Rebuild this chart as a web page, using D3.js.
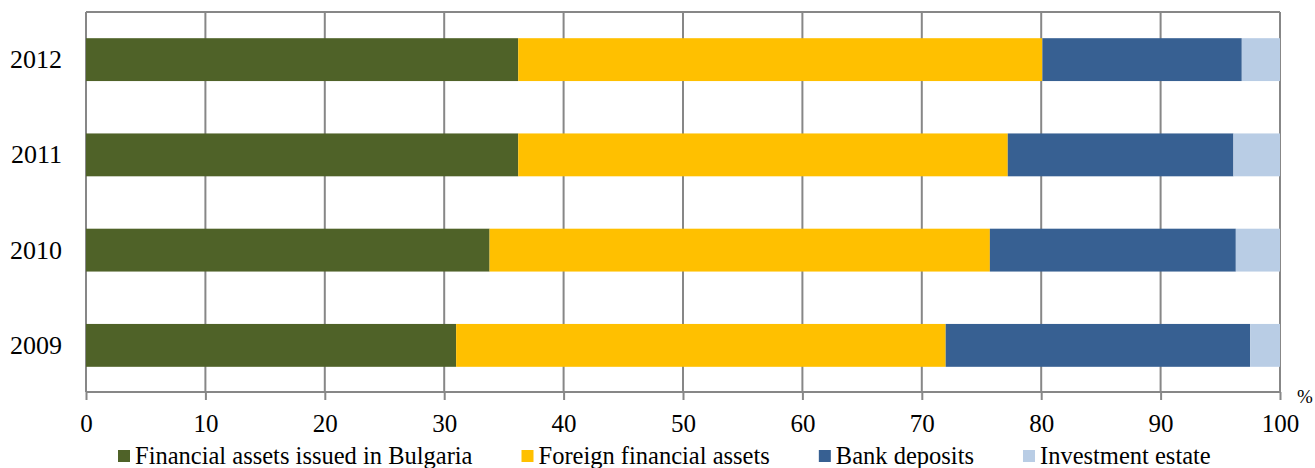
<!DOCTYPE html>
<html>
<head>
<meta charset="utf-8">
<script src="https://cdn.jsdelivr.net/npm/d3@7"></script>
<style>
  body { margin: 0; background: #fff; }
  text { font-family: "Liberation Serif", "Times New Roman", serif; fill: #000; }
</style>
</head>
<body>
<svg id="chart" width="1315" height="468"></svg>
<script>
// years, top to bottom
var years = ["2012", "2011", "2010", "2009"];
var seriesNames = ["Financial assets issued in Bulgaria", "Foreign financial assets", "Bank deposits", "Investment estate"];
var seriesColors = ["#4f6228", "#ffc000", "#376092", "#b9cde5"];
// shares in %, same order as years
var bulgarian = [36.2, 36.2, 33.8, 31.0];
var foreign = [43.9, 41.0, 41.9, 41.0];
var deposits = [16.7, 18.9, 20.6, 25.5];
var estate = [3.2, 3.9, 3.7, 2.5];
var xTicks = [0, 10, 20, 30, 40, 50, 60, 70, 80, 90, 100];

var svg = d3.select("#chart");
var plotLeft = 86, plotRight = 1280, plotTop = 12, plotBottom = 392;
var gridColor = "#878787";

var x = d3.scaleLinear().domain([0, 100]).range([plotLeft, plotRight]);
var y = d3.scaleBand().domain(years).range([plotTop, plotBottom + 1])
	.paddingInner(0.55).paddingOuter(0.275);

var rows = years.map(function(yr, i){
	return {year: yr, v: [bulgarian[i], foreign[i], deposits[i], estate[i]]};
});

// gridlines
svg.append("g").selectAll("line").data(xTicks).enter().append("line")
	.attr("x1", function(d){ return x(d); }).attr("x2", function(d){ return x(d); })
	.attr("y1", plotTop).attr("y2", plotBottom)
	.attr("stroke", gridColor).attr("stroke-width", 2);
svg.append("line").attr("x1", plotLeft).attr("x2", plotRight).attr("y1", plotTop).attr("y2", plotTop)
	.attr("stroke", gridColor).attr("stroke-width", 2);

// stacked bars
var barG = svg.append("g");
rows.forEach(function(r){
	var acc = 0;
	r.v.forEach(function(val, k){
		barG.append("rect")
			.attr("x", x(acc)).attr("width", x(acc + val) - x(acc))
			.attr("y", y(r.year)).attr("height", y.bandwidth())
			.attr("fill", seriesColors[k]);
		acc += val;
	});
});

// x axis
var xAxis = svg.append("g").attr("transform", "translate(0," + plotBottom + ")")
	.call(d3.axisBottom(x).tickValues(xTicks).tickSize(8).tickPadding(14));
xAxis.select(".domain").attr("stroke", gridColor).attr("stroke-width", 2).attr("d", "M" + plotLeft + ",0H" + plotRight);
xAxis.selectAll(".tick line").attr("stroke", gridColor).attr("stroke-width", 2);
xAxis.selectAll(".tick text").style("font-family", "Liberation Serif").style("font-size", "25px").attr("fill", "#000");

// y labels
svg.append("g").selectAll("text").data(years).enter().append("text")
	.attr("x", 62).attr("y", function(d){ return y(d) + y.bandwidth() / 2; })
	.attr("dy", "0.33em").attr("text-anchor", "end")
	.style("font-size", "26px").text(function(d){ return d; });

svg.append("text").attr("x", 1297).attr("y", 403).style("font-size", "19px").text("%");

// legend
var lg = svg.append("g");
var lx = 118;
seriesNames.forEach(function(name, k){
	lg.append("rect").attr("x", lx).attr("y", 450).attr("width", 12).attr("height", 12).attr("fill", seriesColors[k]);
	var t = lg.append("text").attr("x", lx + 17).attr("y", 464).style("font-size", "24.5px").text(name);
	lx += 17 + t.node().getComputedTextLength() + 49;
});
</script>
</body>
</html>
